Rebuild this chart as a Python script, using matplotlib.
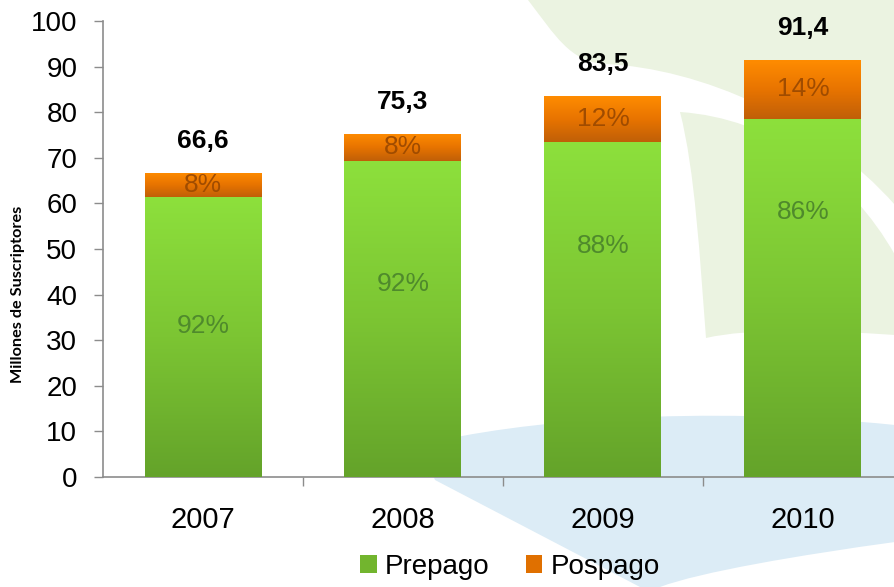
import matplotlib.pyplot as plt
import numpy as np
from matplotlib.path import Path
from matplotlib.patches import PathPatch, Patch
from matplotlib.colors import LinearSegmentedColormap

# Data (millions of subscribers)
years = ['2007', '2008', '2009', '2010']
totals = [66.6, 75.3, 83.5, 91.4]
prepago = [61.3, 69.3, 73.5, 78.6]
pospago = [5.3, 6.0, 10.0, 12.8]
prepago_pct = ['92%', '92%', '88%', '86%']
pospago_pct = ['8%', '8%', '12%', '14%']
total_labels = ['66,6', '75,3', '83,5', '91,4']

# where the green percentage sits inside each bar (fraction of the green segment)
pre_label_frac = [0.54, 0.61, 0.69, 0.74]

plt.rcParams['font.family'] = ['Liberation Sans', 'DejaVu Sans']

W, H = 895, 587
fig = plt.figure(figsize=(W / 100, H / 100), dpi=100)

# Background swooshes (decoration, drawn in pixel coords)
bg = fig.add_axes([0, 0, 1, 1], zorder=0)
bg.set_xlim(0, W)
bg.set_ylim(H, 0)
bg.axis('off')

def blob(verts, codes, color):
    bg.add_patch(PathPatch(Path(verts, codes), facecolor=color, edgecolor='none'))

M, C, L, Z = Path.MOVETO, Path.CURVE4, Path.LINETO, Path.CLOSEPOLY
light_green = '#ebf3e1'
light_blue = '#dcecf6'

# upper green shape
blob([(528, 0), (555, 35), (570, 62), (605, 64), (700, 68), (820, 120), (895, 205),
      (895, 0), (528, 0)],
     [M, C, C, C, C, C, C, L, Z], light_green)
# lower green band
blob([(680, 112), (770, 118), (850, 175), (895, 255), (895, 335),
      (820, 330), (750, 328), (706, 338), (700, 260), (695, 170), (680, 112), (680, 112)],
     [M, C, C, C, L, C, C, C, C, C, C, Z], light_green)
# blue shape
blob([(420, 445), (520, 420), (700, 405), (895, 425), (895, 542),
      (800, 555), (700, 572), (660, 587), (640, 587), (435, 480), (420, 445)],
     [M, C, C, C, L, C, C, C, L, L, Z], light_blue)

ax = fig.add_axes([103 / W, 1 - 477 / H, 800 / W, 456 / H], zorder=1)
ax.patch.set_alpha(0)

x = np.arange(len(years))
bw = 0.585

green_cmap = LinearSegmentedColormap.from_list('g', ['#64a32a', '#7cc533', '#8de03c'])
orange_cmap = LinearSegmentedColormap.from_list('o', ['#c05f08', '#e87400', '#ff8c00'])
grad = np.linspace(0, 1, 256).reshape(-1, 1)

bars_pre = ax.bar(x, prepago, bw, color='#7cc533', zorder=2)
bars_pos = ax.bar(x, pospago, bw, bottom=prepago, color='#e87400', zorder=2)

for bars, cmap in ((bars_pre, green_cmap), (bars_pos, orange_cmap)):
    for b in bars:
        x0, y0 = b.get_x(), b.get_y()
        im = ax.imshow(grad, cmap=cmap, origin='lower', aspect='auto', zorder=3,
                       extent=(x0, x0 + b.get_width(), y0, y0 + b.get_height()))
        im.set_clip_path(b)

for i in range(len(years)):
    ax.text(x[i], prepago[i] * pre_label_frac[i], prepago_pct[i], ha='center', va='center',
            fontsize=19, color='#4f8a2c', zorder=4)
    ax.text(x[i], prepago[i] + pospago[i] / 2, pospago_pct[i], ha='center', va='center',
            fontsize=19, color='#a04c00', zorder=4)
    ax.text(x[i], totals[i] + 7, total_labels[i], ha='center', va='center',
            fontsize=19, fontweight='bold', color='black', zorder=4)

ax.set_xlim(-0.5, 3.5)
ax.set_ylim(0, 100)
ax.set_yticks(range(0, 101, 10))
ax.set_xticks(x)
ax.set_xticklabels(years)
ax.set_xticks([0.5, 1.5, 2.5], minor=True)

for s in ('top', 'right'):
    ax.spines[s].set_visible(False)
for s in ('left', 'bottom'):
    ax.spines[s].set_color('#8c8c8c')
    ax.spines[s].set_linewidth(1.2)

ax.tick_params(axis='y', length=6.5, width=1, color='#8c8c8c', labelsize=20, pad=12)
ax.tick_params(axis='x', which='major', length=0, labelsize=21, pad=21)
ax.tick_params(axis='x', which='minor', length=6.5, width=1, color='#8c8c8c')

fig.text(18 / W, 1 - 294 / H, 'Millones de Suscriptores', rotation=90, ha='center',
         va='center', fontsize=11.7, fontweight='bold', family='Lato')

handles = [Patch(facecolor='#72b52e', label='Prepago'),
           Patch(facecolor='#e07000', label='Pospago')]
fig.legend(handles=handles, loc='center', bbox_to_anchor=(510 / W, 1 - 567 / H),
           ncol=2, frameon=False, fontsize=20, handlelength=0.6, handleheight=0.6,
           handletextpad=0.3, columnspacing=1.3)

fig.savefig('out.png', dpi=100)
